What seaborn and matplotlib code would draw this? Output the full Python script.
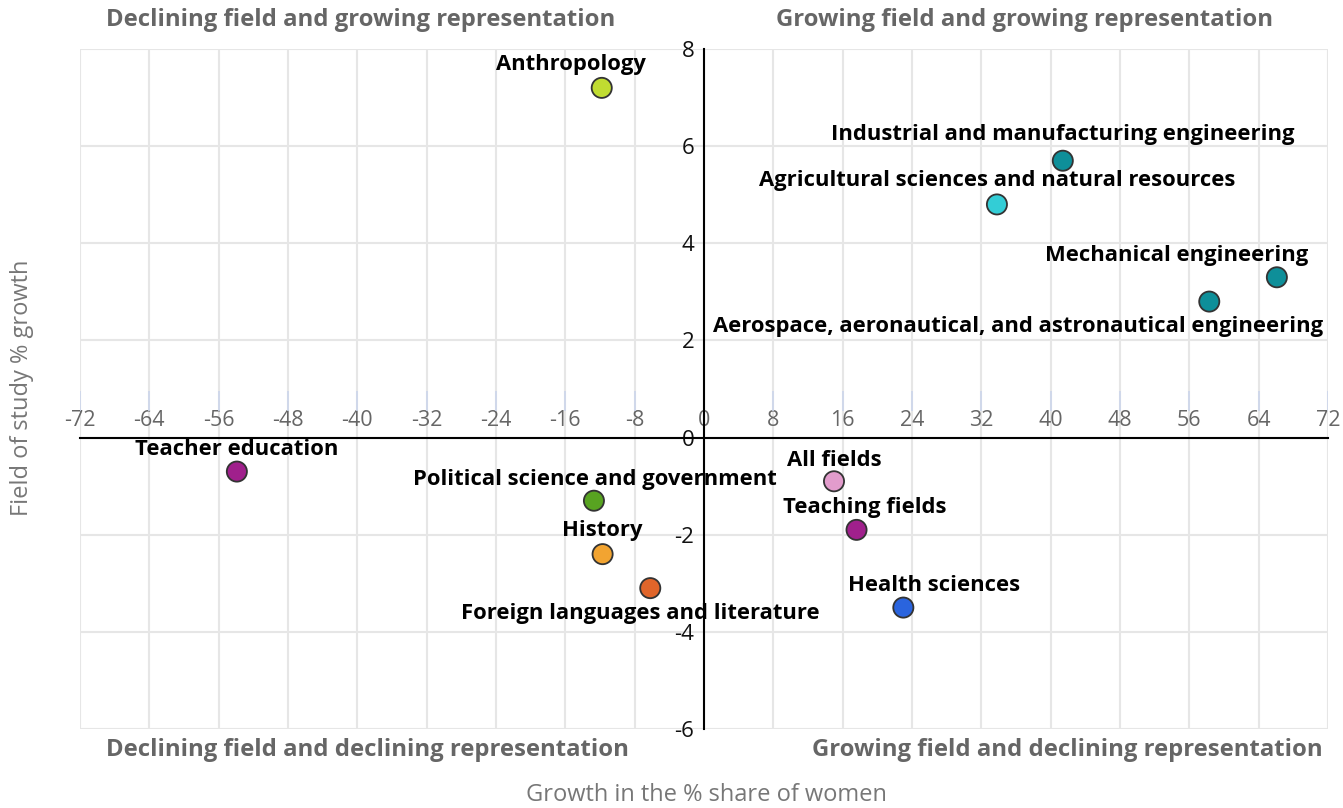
import matplotlib
matplotlib.use("Agg")
import matplotlib.pyplot as plt
import seaborn as sns
import pandas as pd

# Field of study data
fields = [
    "Anthropology",
    "Industrial and manufacturing engineering",
    "Agricultural sciences and natural resources",
    "Mechanical engineering",
    "Aerospace, aeronautical, and astronautical engineering",
    "Teacher education",
    "Political science and government",
    "History",
    "Foreign languages and literature",
    "All fields",
    "Teaching fields",
    "Health sciences",
]
women_share_growth = [-11.8, 41.4, 33.8, 66.1, 58.3, -53.9, -12.7, -11.7, -6.2, 15.0, 17.6, 23.0]
field_growth = [7.2, 5.7, 4.8, 3.3, 2.8, -0.7, -1.3, -2.4, -3.1, -0.9, -1.9, -3.5]
point_colors = [
    "#c0dc31", "#0e8f99", "#33cdd6", "#0e8f99", "#0e8f99", "#a0208c",
    "#58a321", "#f2a431", "#e0652a", "#e29ccc", "#a0208c", "#2a64de",
]

x_ticks = list(range(-72, 73, 8))
y_ticks = list(range(-6, 9, 2))

quadrant_labels = [
    "Declining field and growing representation",
    "Growing field and growing representation",
    "Declining field and declining representation",
    "Growing field and declining representation",
]

# Label offsets in points (dx, dy) relative to each marker
label_offsets = {
    "Anthropology": (-22, 17),
    "Industrial and manufacturing engineering": (0, 19),
    "Agricultural sciences and natural resources": (0, 17),
    "Mechanical engineering": (-72, 16),
    "Aerospace, aeronautical, and astronautical engineering": (-138, -18),
    "Teacher education": (0, 16),
    "Political science and government": (1, 15),
    "History": (0, 17),
    "Foreign languages and literature": (-7, -18),
    "All fields": (0, 15),
    "Teaching fields": (6, 16),
    "Health sciences": (22, 16),
}

sns.set_style("white")
plt.rcParams["font.family"] = ["Open Sans", "DejaVu Sans"]

df = pd.DataFrame({"field": fields, "x": women_share_growth, "y": field_growth})

fig = plt.figure(figsize=(13.43, 8.08), dpi=100)
ax = fig.add_axes([80 / 1343, 79 / 808, 1248 / 1343, 680 / 808])

ax.set_xlim(-72, 72)
ax.set_ylim(-6, 8)
ax.set_xticks(x_ticks)
ax.set_yticks(y_ticks)
ax.grid(True, color="#e6e6e6", linewidth=1.5, zorder=0)
ax.set_axisbelow(True)

# faint tick marks above the x labels
ax.vlines(x_ticks, 0.55, 0.95, color="#ccd6eb", linewidth=1.2, zorder=1)

sns.scatterplot(
    data=df, x="x", y="y", hue="field", palette=dict(zip(fields, point_colors)),
    s=210, edgecolor="#333333", linewidth=1.3, legend=False, zorder=5, ax=ax,
)
ax.set_xlabel("")
ax.set_ylabel("")

for name, xv, yv in zip(fields, women_share_growth, field_growth):
    dx, dy = label_offsets[name]
    ax.annotate(
        name, (xv, yv), xytext=(dx, dy), textcoords="offset points",
        ha="center", va="center", fontsize=15.8, fontweight="bold", color="#000000",
        zorder=6,
    )

# Axes crossing at zero
for side in ["bottom", "right"]:
    ax.spines[side].set_visible(False)
ax.spines["top"].set_position(("data", 0))
ax.spines["left"].set_position(("data", 0))
ax.spines["top"].set_color("black")
ax.spines["left"].set_color("black")
ax.spines["top"].set_linewidth(1.5)
ax.spines["left"].set_linewidth(1.5)
ax.spines["top"].set_zorder(2)
ax.spines["left"].set_zorder(2)

ax.xaxis.tick_top()
ax.tick_params(axis="x", length=0, pad=5, labelsize=15.5, labelcolor="#666666")
ax.tick_params(axis="y", length=0, pad=7, labelsize=16, labelcolor="#111111")
ax.set_xticklabels([str(t) for t in x_ticks])
ax.set_yticklabels([str(t) for t in y_ticks])

# Axis titles
fig.text(706 / 1343, 1 - 795 / 808, "Growth in the % share of women", ha="center", va="center",
         fontsize=17, color="#777777")
fig.text(22 / 1343, 1 - 388 / 808, "Field of study % growth", ha="center", va="center",
         rotation=90, fontsize=17, color="#777777")

# Quadrant labels
qstyle = dict(fontsize=17.2, fontweight="bold", color="#666666", va="center")
fig.text(106 / 1343, 1 - 20 / 808, quadrant_labels[0], ha="left", **qstyle)
fig.text(1273 / 1343, 1 - 20 / 808, quadrant_labels[1], ha="right", **qstyle)
fig.text(106 / 1343, 1 - 750 / 808, quadrant_labels[2], ha="left", **qstyle)
fig.text(1323 / 1343, 1 - 750 / 808, quadrant_labels[3], ha="right", **qstyle)

plt.savefig("out.png", dpi=100)
